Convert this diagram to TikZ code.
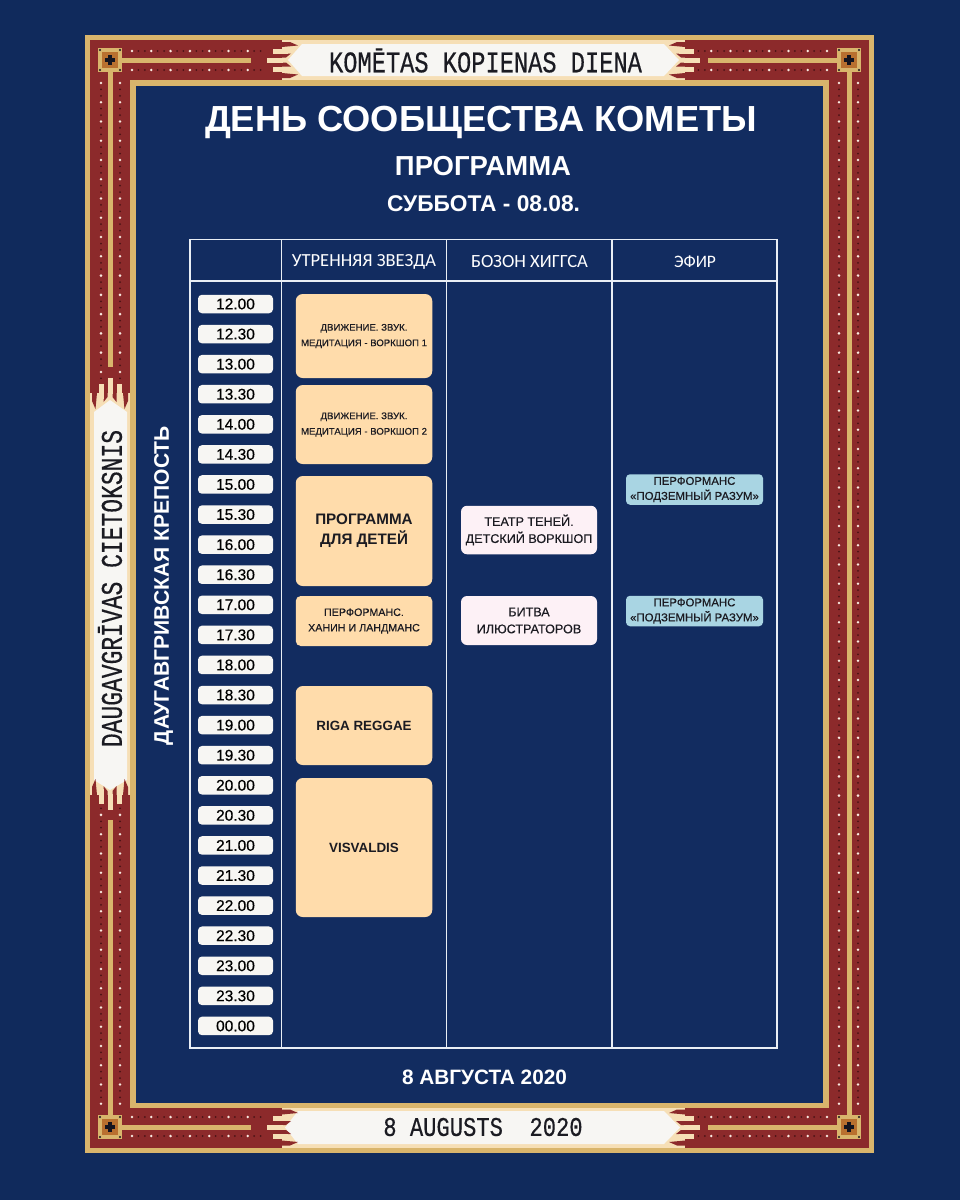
\documentclass[tikz,border=0pt]{standalone}
\usepackage{fontspec}
\usepackage{graphicx}
\setmainfont{Liberation Sans}
\newfontfamily\medf[FakeBold=0.35]{Liberation Sans}
\newfontfamily\headf{Carlito}
\newfontfamily\slab[FakeBold=0.5]{Liberation Mono}
\newcommand{\pxs}[2]{\fontsize{#1}{#2}\selectfont}
\definecolor{navybg}{HTML}{102A5C}
\definecolor{navyin}{HTML}{122C60}
\definecolor{goldc}{HTML}{D9B56C}
\definecolor{redc}{HTML}{8C2A2B}
\definecolor{creamc}{HTML}{F6DFB6}
\definecolor{whitec}{HTML}{F7F6F3}
\definecolor{darkdot}{HTML}{4A1216}
\definecolor{dotw}{HTML}{FBE9E0}
\definecolor{brownc}{HTML}{B9702F}
\definecolor{crossc}{HTML}{14141F}
\definecolor{peach}{HTML}{FFDCAB}
\definecolor{pinkc}{HTML}{FDF1F6}
\definecolor{bluec}{HTML}{A9D5E3}
\definecolor{linec}{HTML}{E9EEF5}
\definecolor{inkc}{HTML}{1B1B22}
\tikzset{
  pill/.style={fill=whitec,rounded corners=4pt,minimum width=75pt,minimum height=18.5pt,inner sep=0pt,text=black,font=\medf\pxs{15.5}{16}},
  peachbox/.style={fill=peach,rounded corners=7pt,minimum width=136.5pt,inner sep=0pt,align=center,text=inkc},
  pinkbox/.style={fill=pinkc,rounded corners=6pt,minimum width=136pt,inner sep=0pt,align=center,text=inkc,font=\medf\pxs{12.6}{17}},
  bluebox/.style={fill=bluec,rounded corners=4pt,minimum width=137pt,minimum height=30.5pt,inner sep=0pt,align=center,text=inkc,font=\medf\pxs{11.4}{15}},
  gridline/.style={draw=linec,line width=1.3pt},
  barf/.style={fill=goldc},
  titletext/.style={text=white,inner sep=0pt,font=\bfseries},
  headtext/.style={text=white,inner sep=0pt,font=\headf\pxs{19}{20}},
  slabtext/.style={text=inkc,inner sep=0pt,font=\slab\pxs{30}{30}}
}
\newcommand{\ribend}{%
  \fill[redc] (0,-18)--(8,-18)--(16,-14.5)--(0,-13)--cycle;
  \fill[redc] (0,18)--(8,18)--(16,14.5)--(0,13)--cycle;
  \fill[redc] (0,-6.5)--(9,-6.5)--(4,-2.5)--(0,-2.5)--cycle;
  \fill[redc] (0,6.5)--(9,6.5)--(4,2.5)--(0,2.5)--cycle;
  \fill[creamc] (-9,-11.5) rectangle (6,-6.5);
  \fill[creamc] (-9,11.5) rectangle (6,6.5);
  \fill[creamc] (-15,-2.5) rectangle (1,2.5);
}
\begin{document}
\begin{tikzpicture}[x=1pt,y=-1pt]
\useasboundingbox (0,0) rectangle (960,1200);
\fill[navybg] (0,0) rectangle (960,1200);
% frame
\fill[goldc] (85,35) rectangle (874,1152.5);
\fill[redc] (90,40) rectangle (869,1147.5);
\fill[goldc] (130,80) rectangle (829,1107.5);
\fill[navyin] (136,86) rectangle (823,1102.5);
% bars
\fill[barf] (122,57.5) rectangle (251,62.5);
\fill[barf] (708,57.5) rectangle (837,62.5);
\fill[barf] (122,1124.5) rectangle (251,1129.5);
\fill[barf] (708,1124.5) rectangle (837,1129.5);
\fill[barf] (107.5,72) rectangle (112.5,367);
\fill[barf] (107.5,820) rectangle (112.5,1115);
\fill[barf] (846.5,72) rectangle (851.5,1115);
% horizontal dots
\foreach \yy in {51,70,1117,1136}{
  \foreach \k in {0,...,20}{
    \fill[darkdot] ({132+6.43*\k},\yy) circle (1pt);
    \fill[darkdot] ({959-132-6.43*\k},\yy) circle (1pt);
  }
  \foreach \k in {0,...,6}{
    \fill[dotw] ({132+19.3*\k},\yy) circle (1.4pt);
    \fill[dotw] ({959-132-19.3*\k},\yy) circle (1.4pt);
  }
}
% vertical dots, right side and left side
\foreach \xx in {839,858}{
  \foreach \k in {0,...,159}{\fill[darkdot] (\xx,{83+6.42*\k}) circle (1pt);}
  \foreach \k in {0,...,53}{\fill[dotw] (\xx,{83+19.26*\k}) circle (1.4pt);}
}
\foreach \xx in {101,120}{
  \foreach \k in {0,...,46}{\fill[darkdot] (\xx,{83+6.42*\k}) circle (1pt);}
  \foreach \k in {113,...,159}{\fill[darkdot] (\xx,{83+6.42*\k}) circle (1pt);}
  \foreach \k in {0,...,15}{\fill[dotw] (\xx,{83+19.26*\k}) circle (1.4pt);}
  \foreach \k in {38,...,53}{\fill[dotw] (\xx,{83+19.26*\k}) circle (1.4pt);}
}
% corner squares
\foreach \cx/\cy in {110/60,849/60,110/1127,849/1127}{
  \begin{scope}[shift={(\cx,\cy)}]
    \fill[goldc] (-12,-12) rectangle (12,12);
    \fill[brownc] (-8,-8) rectangle (8,8);
    \fill[crossc] (-2.2,-5) rectangle (2.2,5);
    \fill[crossc] (-5,-2.2) rectangle (5,2.2);
    \foreach \sx in {-10,10}{\foreach \sy in {-10,10}{\fill[crossc] (\sx,\sy) circle (1.2pt);}}
  \end{scope}
}
% top ribbon
\fill[creamc] (282,40) rectangle (685,80);
\fill[whitec] (288,60)--(302,44)--(664,44)--(679,60)--(664,76)--(302,76)--cycle;
\begin{scope}[shift={(282,60)},x={(1pt,0pt)},y={(0pt,-1pt)}]\ribend\end{scope}
\begin{scope}[shift={(685,60)},x={(-1pt,0pt)},y={(0pt,-1pt)}]\ribend\end{scope}
% bottom ribbon
\fill[creamc] (282,1107.5) rectangle (685,1147.5);
\fill[whitec] (285,1127.5)--(298,1111)--(664,1111)--(680,1127.5)--(664,1144)--(298,1144)--cycle;
\begin{scope}[shift={(282,1127.5)},x={(1pt,0pt)},y={(0pt,-1pt)}]\ribend\end{scope}
\begin{scope}[shift={(685,1127.5)},x={(-1pt,0pt)},y={(0pt,-1pt)}]\ribend\end{scope}
% left ribbon
\fill[creamc] (90,393) rectangle (130,795);
\fill[whitec] (110,400)--(94,412)--(94,780)--(110,790)--(127,780)--(127,412)--cycle;
\begin{scope}[shift={(110,393)},x={(0pt,-1pt)},y={(1pt,0pt)}]\ribend\end{scope}
\begin{scope}[shift={(110,795)},x={(0pt,1pt)},y={(1pt,0pt)}]\ribend\end{scope}
% ribbon texts
\node[slabtext] (rtop) at (485.5,60.5) {\scalebox{.79}[1]{KOMĒTAS KOPIENAS DIENA}};
\node[slabtext,font=\slab\pxs{27}{27}] (rbot) at (483,1127) {\scalebox{.82}[1]{8 AUGUSTS~~2020}};
\node[slabtext,rotate=90] (rleft) at (110,588.5) {\scalebox{.766}[1]{DAUGAVGRĪVAS CIETOKSNIS}};
% titles
\node[titletext] (t1) at (481,122) {\resizebox{552pt}{!}{\pxs{35}{36}ДЕНЬ СООБЩЕСТВА КОМЕТЫ}};
\node[titletext] (t2) at (483,166) {\resizebox{176pt}{!}{\pxs{25}{26}ПРОГРАММА}};
\node[titletext] (t3) at (483.5,203.5) {\resizebox{193pt}{!}{\pxs{19}{20}СУББОТА - 08.08.}};
\node[titletext] (t4) at (484.5,1077) {\resizebox{165pt}{!}{\pxs{18}{19}8 АВГУСТА 2020}};
\node[titletext,rotate=90] (t5) at (163.5,585.5) {\resizebox{319pt}{!}{\pxs{20}{21}ДАУГАВГРИВСКАЯ КРЕПОСТЬ}};
% table
\draw[gridline] (190,239.5) rectangle (777,1048);
\draw[gridline] (190,281) -- (777,281);
\draw[gridline] (281.5,239.5) -- (281.5,1048);
\draw[gridline] (446.5,239.5) -- (446.5,1048);
\draw[gridline] (612,239.5) -- (612,1048);
\node[headtext] (h1) at (364,261.5) {\resizebox{144pt}{!}{УТРЕННЯЯ ЗВЕЗДА}};
\node[headtext] (h2) at (529.5,261.5) {\resizebox{117pt}{!}{БОЗОН ХИГГСА}};
\node[headtext] (h3) at (695,261.5) {\resizebox{42pt}{!}{ЭФИР}};
% times
\foreach \t [count=\i from 0] in {12.00,12.30,13.00,13.30,14.00,14.30,15.00,15.30,16.00,16.30,17.00,17.30,18.00,18.30,19.00,19.30,20.00,20.30,21.00,21.30,22.00,22.30,23.00,23.30,00.00}{
  \node[pill] (time\i) at (235.5,{304+30.08*\i}) {\t};
}
% orange column
\node[peachbox,minimum height=84pt,font=\medf\pxs{9.6}{15.5}] (p1) at (364,336) {ДВИЖЕНИЕ. ЗВУК.\\МЕДИТАЦИЯ - ВОРКШОП 1};
\node[peachbox,minimum height=79pt,font=\medf\pxs{9.6}{15.5}] (p2) at (364,424.5) {ДВИЖЕНИЕ. ЗВУК.\\МЕДИТАЦИЯ - ВОРКШОП 2};
\node[peachbox,minimum height=110pt,font=\bfseries\pxs{15.2}{20}] (p3) at (364,531) {ПРОГРАММА\\ДЛЯ ДЕТЕЙ};
\node[peachbox,minimum height=50pt,rounded corners=5pt,font=\medf\pxs{10.7}{15.5}] (p4) at (364,621) {ПЕРФОРМАНС.\\ХАНИН И ЛАНДМАНС};
\node[peachbox,minimum height=79pt,font=\bfseries\pxs{13.4}{16}] (p5) at (364,725.5) {RIGA REGGAE};
\node[peachbox,minimum height=139pt,font=\bfseries\pxs{13.4}{16}] (p6) at (364,847.5) {VISVALDIS};
% pink column
\node[pinkbox,minimum height=48.5pt] (k1) at (529,530) {ТЕАТР ТЕНЕЙ.\\ДЕТСКИЙ ВОРКШОП};
\node[pinkbox,minimum height=49pt] (k2) at (529,620.5) {БИТВА\\ИЛЮСТРАТОРОВ};
% blue column
\node[bluebox] (b1) at (694.5,489.5) {ПЕРФОРМАНС\\«ПОДЗЕМНЫЙ РАЗУМ»};
\node[bluebox] (b2) at (694.5,611) {ПЕРФОРМАНС\\«ПОДЗЕМНЫЙ РАЗУМ»};
\end{tikzpicture}
\end{document}
